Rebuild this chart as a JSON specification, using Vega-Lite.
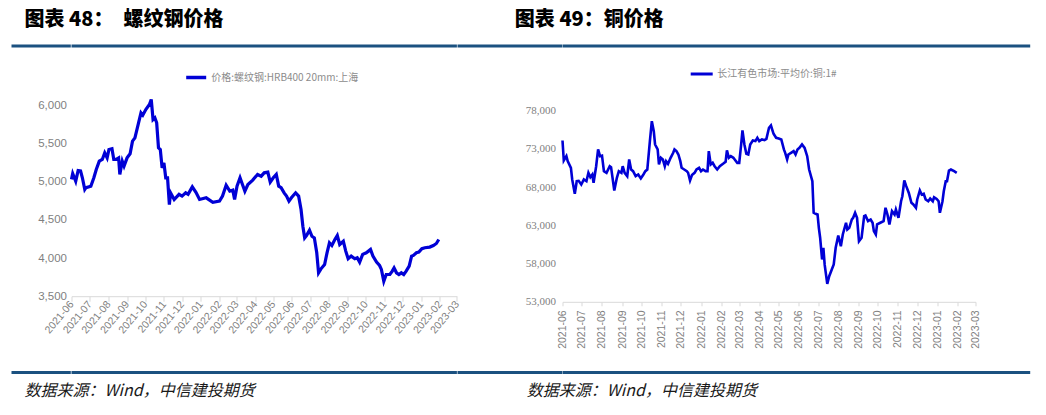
{
  "$schema": "https://vega.github.io/schema/vega-lite/v6.json",
  "background": "white",
  "padding": {"left": 11.5, "top": 9.5, "right": 5, "bottom": 5},
  "config": {"view": {"stroke": null}, "font": "Noto Sans CJK SC"},
  "datasets": {
    "rebar": [
      {"date":"2021-06-01","v":5030},{"date":"2021-06-03","v":5106},{"date":"2021-06-08","v":5005},{"date":"2021-06-12","v":5145},{"date":"2021-06-16","v":5140},{"date":"2021-06-19","v":5050},{"date":"2021-06-23","v":4897},{"date":"2021-06-25","v":4920},{"date":"2021-07-03","v":4940},{"date":"2021-07-08","v":5050},{"date":"2021-07-12","v":5158},{"date":"2021-07-17","v":5267},{"date":"2021-07-22","v":5290},{"date":"2021-07-26","v":5377},{"date":"2021-07-30","v":5311},{"date":"2021-08-02","v":5420},{"date":"2021-08-07","v":5430},{"date":"2021-08-10","v":5290},{"date":"2021-08-14","v":5290},{"date":"2021-08-18","v":5310},{"date":"2021-08-20","v":5093},{"date":"2021-08-24","v":5267},{"date":"2021-08-27","v":5202},{"date":"2021-09-01","v":5311},{"date":"2021-09-06","v":5364},{"date":"2021-09-10","v":5529},{"date":"2021-09-14","v":5573},{"date":"2021-09-20","v":5770},{"date":"2021-09-24","v":5900},{"date":"2021-09-27","v":5870},{"date":"2021-10-02","v":5944},{"date":"2021-10-08","v":6009},{"date":"2021-10-11","v":6075},{"date":"2021-10-14","v":5813},{"date":"2021-10-17","v":5835},{"date":"2021-10-20","v":5770},{"date":"2021-10-23","v":5442},{"date":"2021-10-26","v":5420},{"date":"2021-10-29","v":5180},{"date":"2021-11-01","v":5245},{"date":"2021-11-04","v":5050},{"date":"2021-11-07","v":5050},{"date":"2021-11-10","v":4700},{"date":"2021-11-12","v":4853},{"date":"2021-11-18","v":4766},{"date":"2021-11-26","v":4833},{"date":"2021-12-01","v":4810},{"date":"2021-12-07","v":4853},{"date":"2021-12-11","v":4833},{"date":"2021-12-14","v":4875},{"date":"2021-12-18","v":4932},{"date":"2021-12-24","v":4860},{"date":"2021-12-30","v":4766},{"date":"2022-01-10","v":4788},{"date":"2022-01-21","v":4730},{"date":"2022-02-01","v":4744},{"date":"2022-02-06","v":4810},{"date":"2022-02-12","v":4953},{"date":"2022-02-18","v":4875},{"date":"2022-02-23","v":4888},{"date":"2022-02-26","v":4766},{"date":"2022-03-02","v":4940},{"date":"2022-03-07","v":5050},{"date":"2022-03-11","v":4962},{"date":"2022-03-15","v":4875},{"date":"2022-03-20","v":4962},{"date":"2022-03-28","v":5020},{"date":"2022-04-05","v":5093},{"date":"2022-04-11","v":5071},{"date":"2022-04-16","v":5115},{"date":"2022-04-22","v":5124},{"date":"2022-04-26","v":4993},{"date":"2022-05-01","v":5050},{"date":"2022-05-06","v":5093},{"date":"2022-05-10","v":4940},{"date":"2022-05-14","v":4920},{"date":"2022-05-19","v":4853},{"date":"2022-05-23","v":4810},{"date":"2022-05-27","v":4744},{"date":"2022-05-31","v":4788},{"date":"2022-06-07","v":4853},{"date":"2022-06-12","v":4810},{"date":"2022-06-16","v":4635},{"date":"2022-06-19","v":4416},{"date":"2022-06-22","v":4264},{"date":"2022-06-25","v":4294},{"date":"2022-06-30","v":4364},{"date":"2022-07-04","v":4285},{"date":"2022-07-08","v":4264},{"date":"2022-07-12","v":4068},{"date":"2022-07-15","v":3806},{"date":"2022-07-19","v":3858},{"date":"2022-07-25","v":3915},{"date":"2022-07-29","v":4068},{"date":"2022-08-02","v":4199},{"date":"2022-08-06","v":4164},{"date":"2022-08-11","v":4242},{"date":"2022-08-15","v":4294},{"date":"2022-08-19","v":4177},{"date":"2022-08-25","v":4220},{"date":"2022-08-29","v":4090},{"date":"2022-09-02","v":3990},{"date":"2022-09-07","v":4025},{"date":"2022-09-13","v":3990},{"date":"2022-09-17","v":4003},{"date":"2022-09-21","v":3946},{"date":"2022-09-26","v":4047},{"date":"2022-10-02","v":4068},{"date":"2022-10-09","v":4112},{"date":"2022-10-13","v":4025},{"date":"2022-10-19","v":3946},{"date":"2022-10-24","v":3902},{"date":"2022-10-27","v":3850},{"date":"2022-10-31","v":3696},{"date":"2022-11-04","v":3784},{"date":"2022-11-10","v":3784},{"date":"2022-11-14","v":3828},{"date":"2022-11-17","v":3871},{"date":"2022-11-21","v":3806},{"date":"2022-11-25","v":3784},{"date":"2022-11-29","v":3806},{"date":"2022-12-03","v":3784},{"date":"2022-12-07","v":3828},{"date":"2022-12-12","v":3893},{"date":"2022-12-16","v":4025},{"date":"2022-12-19","v":4034},{"date":"2022-12-24","v":4068},{"date":"2022-12-28","v":4077},{"date":"2023-01-02","v":4121},{"date":"2023-01-07","v":4134},{"date":"2023-01-15","v":4143},{"date":"2023-01-21","v":4164},{"date":"2023-01-26","v":4190},{"date":"2023-01-30","v":4242}
    ],
    "copper": [
      {"date":"2021-06-01","v":74080},{"date":"2021-06-03","v":71470},{"date":"2021-06-07","v":72030},{"date":"2021-06-09","v":71380},{"date":"2021-06-14","v":70510},{"date":"2021-06-16","v":68990},{"date":"2021-06-20","v":67120},{"date":"2021-06-23","v":68760},{"date":"2021-06-26","v":68810},{"date":"2021-06-30","v":68330},{"date":"2021-07-04","v":68990},{"date":"2021-07-08","v":68760},{"date":"2021-07-11","v":69860},{"date":"2021-07-14","v":69290},{"date":"2021-07-17","v":69640},{"date":"2021-07-19","v":68550},{"date":"2021-07-23","v":70720},{"date":"2021-07-26","v":72910},{"date":"2021-07-29","v":72030},{"date":"2021-08-01","v":72100},{"date":"2021-08-04","v":70070},{"date":"2021-08-08","v":69860},{"date":"2021-08-13","v":70720},{"date":"2021-08-15","v":70600},{"date":"2021-08-20","v":67550},{"date":"2021-08-24","v":69210},{"date":"2021-08-27","v":70070},{"date":"2021-08-31","v":69860},{"date":"2021-09-02","v":70720},{"date":"2021-09-05","v":69860},{"date":"2021-09-09","v":69420},{"date":"2021-09-12","v":71600},{"date":"2021-09-15","v":70290},{"date":"2021-09-18","v":70070},{"date":"2021-09-22","v":69420},{"date":"2021-09-26","v":69640},{"date":"2021-09-30","v":69120},{"date":"2021-10-04","v":69640},{"date":"2021-10-07","v":70070},{"date":"2021-10-10","v":70290},{"date":"2021-10-14","v":73990},{"date":"2021-10-17","v":76600},{"date":"2021-10-20","v":75300},{"date":"2021-10-22","v":73560},{"date":"2021-10-26","v":72910},{"date":"2021-10-28","v":70950},{"date":"2021-10-31","v":71820},{"date":"2021-11-03","v":71600},{"date":"2021-11-06","v":70720},{"date":"2021-11-08","v":71380},{"date":"2021-11-11","v":71030},{"date":"2021-11-15","v":71820},{"date":"2021-11-19","v":72470},{"date":"2021-11-21","v":72910},{"date":"2021-11-24","v":72690},{"date":"2021-11-27","v":72250},{"date":"2021-11-30","v":71380},{"date":"2021-12-02","v":70510},{"date":"2021-12-06","v":70290},{"date":"2021-12-10","v":70070},{"date":"2021-12-12","v":69860},{"date":"2021-12-15","v":68850},{"date":"2021-12-18","v":69570},{"date":"2021-12-22","v":69860},{"date":"2021-12-25","v":70290},{"date":"2021-12-29","v":70510},{"date":"2022-01-01","v":70070},{"date":"2022-01-04","v":70290},{"date":"2022-01-08","v":70070},{"date":"2022-01-11","v":70070},{"date":"2022-01-13","v":72690},{"date":"2022-01-16","v":70950},{"date":"2022-01-19","v":71160},{"date":"2022-01-22","v":70720},{"date":"2022-01-26","v":70290},{"date":"2022-01-30","v":70720},{"date":"2022-02-04","v":71030},{"date":"2022-02-08","v":71300},{"date":"2022-02-10","v":72780},{"date":"2022-02-13","v":71820},{"date":"2022-02-16","v":72030},{"date":"2022-02-20","v":71820},{"date":"2022-02-22","v":71600},{"date":"2022-02-26","v":71160},{"date":"2022-03-01","v":71160},{"date":"2022-03-04","v":73560},{"date":"2022-03-06","v":75390},{"date":"2022-03-09","v":73560},{"date":"2022-03-12","v":72340},{"date":"2022-03-15","v":72250},{"date":"2022-03-18","v":73560},{"date":"2022-03-22","v":74080},{"date":"2022-03-26","v":74000},{"date":"2022-03-29","v":74430},{"date":"2022-04-01","v":74000},{"date":"2022-04-05","v":74210},{"date":"2022-04-09","v":74140},{"date":"2022-04-12","v":74300},{"date":"2022-04-16","v":75740},{"date":"2022-04-19","v":76040},{"date":"2022-04-23","v":74960},{"date":"2022-04-27","v":74430},{"date":"2022-05-01","v":74350},{"date":"2022-05-05","v":74210},{"date":"2022-05-09","v":72910},{"date":"2022-05-11","v":72470},{"date":"2022-05-14","v":71600},{"date":"2022-05-16","v":72250},{"date":"2022-05-20","v":72470},{"date":"2022-05-24","v":72690},{"date":"2022-05-27","v":72250},{"date":"2022-05-30","v":72910},{"date":"2022-06-02","v":73120},{"date":"2022-06-06","v":73560},{"date":"2022-06-10","v":73120},{"date":"2022-06-14","v":72030},{"date":"2022-06-17","v":70290},{"date":"2022-06-22","v":68760},{"date":"2022-06-24","v":64630},{"date":"2022-06-27","v":64500},{"date":"2022-06-30","v":64410},{"date":"2022-07-02","v":62670},{"date":"2022-07-04","v":61370},{"date":"2022-07-07","v":58530},{"date":"2022-07-09","v":60060},{"date":"2022-07-11","v":57850},{"date":"2022-07-15","v":55350},{"date":"2022-07-18","v":56350},{"date":"2022-07-22","v":57220},{"date":"2022-07-25","v":57880},{"date":"2022-07-28","v":60060},{"date":"2022-08-01","v":61670},{"date":"2022-08-05","v":60270},{"date":"2022-08-08","v":61800},{"date":"2022-08-13","v":63330},{"date":"2022-08-15","v":62450},{"date":"2022-08-18","v":62670},{"date":"2022-08-22","v":63760},{"date":"2022-08-24","v":63980},{"date":"2022-08-27","v":64630},{"date":"2022-08-30","v":63980},{"date":"2022-09-02","v":60920},{"date":"2022-09-06","v":61370},{"date":"2022-09-10","v":64200},{"date":"2022-09-12","v":64280},{"date":"2022-09-16","v":63550},{"date":"2022-09-20","v":63760},{"date":"2022-09-23","v":63330},{"date":"2022-09-25","v":62230},{"date":"2022-09-28","v":61800},{"date":"2022-09-30","v":63110},{"date":"2022-10-05","v":63330},{"date":"2022-10-10","v":63550},{"date":"2022-10-13","v":65290},{"date":"2022-10-16","v":64410},{"date":"2022-10-19","v":63110},{"date":"2022-10-23","v":64850},{"date":"2022-10-27","v":64410},{"date":"2022-10-29","v":65060},{"date":"2022-11-02","v":63980},{"date":"2022-11-06","v":66150},{"date":"2022-11-08","v":66800},{"date":"2022-11-11","v":68850},{"date":"2022-11-14","v":68110},{"date":"2022-11-18","v":67220},{"date":"2022-11-22","v":65940},{"date":"2022-11-25","v":65720},{"date":"2022-11-29","v":65290},{"date":"2022-12-01","v":66370},{"date":"2022-12-05","v":67550},{"date":"2022-12-08","v":67000},{"date":"2022-12-11","v":67110},{"date":"2022-12-14","v":66370},{"date":"2022-12-18","v":66150},{"date":"2022-12-21","v":66500},{"date":"2022-12-25","v":66150},{"date":"2022-12-27","v":66660},{"date":"2022-12-31","v":66450},{"date":"2023-01-03","v":66150},{"date":"2023-01-05","v":64630},{"date":"2023-01-09","v":66150},{"date":"2023-01-11","v":67450},{"date":"2023-01-14","v":68760},{"date":"2023-01-16","v":68760},{"date":"2023-01-19","v":70160},{"date":"2023-01-22","v":70290},{"date":"2023-01-27","v":70070},{"date":"2023-01-31","v":69860}
    ]
  },
  "bounds": "flush",
  "columns": 4,
  "spacing": {"row": 57.7, "column": 0},
  "resolve": {"scale": {"color": "independent"}, "legend": {"color": "independent"}},
  "concat": [
    {
      "width": 59.3, "height": 3, "data": {"values": []}, "mark": "point",
      "view": {"fill": "#1b5180", "stroke": null},
      "title": {"text": "图表 48：　螺纹钢价格", "anchor": "start", "frame": "group", "dx": 13, "offset": -1, "baseline": "alphabetic", "fontSize": 20, "fontWeight": 900, "font": "Noto Sans CJK SC", "color": "#000000"}
    },
    {
      "width": 385.4, "height": 3, "data": {"values": []}, "mark": "point",
      "view": {"fill": "#1b5180", "stroke": null}
    },
    {
      "width": 104.6, "height": 3, "data": {"values": []}, "mark": "point",
      "view": {"fill": "#1b5180", "stroke": null},
      "title": {"text": "图表 49：铜价格", "anchor": "start", "frame": "group", "dx": 57.3, "offset": -1, "baseline": "alphabetic", "fontSize": 20, "fontWeight": 900, "font": "Noto Sans CJK SC", "color": "#000000"}
    },
    {
      "width": 467.7, "height": 3, "data": {"values": []}, "mark": "point",
      "view": {"fill": "#1b5180", "stroke": null}
    },
    {
      "width": 59.3, "height": 207.1, "data": {"values": []}, "mark": "point"
    },
    {
      "width": 385.4, "height": 191,
      "data": {"name": "rebar"},
      "mark": {"type": "line", "strokeWidth": 3.2, "clip": false},
      "encoding": {
        "x": {"field": "date", "type": "temporal",
          "scale": {"type": "utc", "domain": [{"year": 2021, "month": 6, "date": 1, "utc": true}, {"year": 2023, "month": 3, "date": 1, "utc": true}]},
          "axis": {"title": null, "format": "%Y-%m", "tickCount": {"interval": "month", "step": 1}, "labelAngle": -50, "labelOverlap": false, "labelFlush": false, "grid": false, "domainColor": "#d9d9d9", "tickColor": "#d9d9d9", "tickSize": 5, "labelColor": "#7f7f7f", "labelFontSize": 10.5, "labelFont": "Liberation Sans", "labelPadding": 1}},
        "y": {"field": "v", "type": "quantitative",
          "scale": {"domain": [3500, 6000], "nice": false, "zero": false},
          "axis": {"title": null, "values": [3500, 4000, 4500, 5000, 5500, 6000], "format": ",.0f", "domain": false, "ticks": false, "grid": false, "labelColor": "#7f7f7f", "labelFontSize": 11.5, "labelFont": "Liberation Sans", "labelPadding": 5}},
        "color": {"datum": "价格:螺纹钢:HRB400 20mm:上海", "type": "nominal",
          "scale": {"range": ["#0000d6"]},
          "legend": {"title": null, "orient": "none", "legendX": 112.7, "legendY": -39.7, "symbolType": "stroke", "symbolSize": 400, "symbolStrokeWidth": 3.5, "labelFontSize": 10, "labelColor": "#8c8c8c", "labelFont": "Noto Sans CJK SC", "labelOffset": 3, "padding": 0}}
      }
    },
    {
      "width": 104.6, "height": 10, "data": {"values": []}, "mark": "point"
    },
    {
      "width": 413, "height": 196.6,
      "data": {"name": "copper"},
      "mark": {"type": "line", "strokeWidth": 2.6, "clip": false},
      "encoding": {
        "x": {"field": "date", "type": "temporal",
          "scale": {"type": "utc", "domain": [{"year": 2021, "month": 6, "date": 1, "utc": true}, {"year": 2023, "month": 3, "date": 1, "utc": true}]},
          "axis": {"title": null, "format": "%Y-%m", "tickCount": {"interval": "month", "step": 1}, "labelAngle": -90, "labelOverlap": false, "labelFlush": false, "grid": false, "domainColor": "#d9d9d9", "tickColor": "#d9d9d9", "tickSize": 4, "labelColor": "#7f7f7f", "labelFontSize": 10.5, "labelFont": "Liberation Sans", "labelPadding": 4}},
        "y": {"field": "v", "type": "quantitative",
          "scale": {"domain": [53000, 78693], "nice": false, "zero": false},
          "axis": {"title": null, "values": [53000, 58000, 63000, 68000, 73000, 78000], "format": ",.0f", "domain": false, "ticks": false, "grid": false, "labelColor": "#7f7f7f", "labelFontSize": 11, "labelFont": "Liberation Serif", "labelPadding": 7}},
        "color": {"datum": "长江有色市场:平均价:铜:1#", "type": "nominal",
          "scale": {"range": ["#0000d6"]},
          "legend": {"title": null, "orient": "none", "legendX": 126.7, "legendY": -43.7, "symbolType": "stroke", "symbolSize": 484, "symbolStrokeWidth": 3, "labelFontSize": 10, "labelColor": "#8c8c8c", "labelFont": "Noto Sans CJK SC", "labelOffset": 3, "padding": 0}}
      }
    },
    {
      "width": 59.3, "height": 3, "data": {"values": []}, "mark": "point",
      "view": {"fill": "#1b5180", "stroke": null},
      "title": {"text": "数据来源：Wind，中信建投期货", "orient": "bottom", "anchor": "start", "frame": "group", "dx": 13, "offset": 22.5, "baseline": "alphabetic", "fontSize": 16, "fontWeight": "normal", "fontStyle": "italic", "font": "Noto Sans CJK SC", "color": "#1a1a1a"}
    },
    {
      "width": 385.4, "height": 3, "data": {"values": []}, "mark": "point",
      "view": {"fill": "#1b5180", "stroke": null}
    },
    {
      "width": 104.6, "height": 3, "data": {"values": []}, "mark": "point",
      "view": {"fill": "#1b5180", "stroke": null},
      "title": {"text": "数据来源：Wind，中信建投期货", "orient": "bottom", "anchor": "start", "frame": "group", "dx": 69.3, "offset": 22.5, "baseline": "alphabetic", "fontSize": 16, "fontWeight": "normal", "fontStyle": "italic", "font": "Noto Sans CJK SC", "color": "#1a1a1a"}
    },
    {
      "width": 467.7, "height": 3, "data": {"values": []}, "mark": "point",
      "view": {"fill": "#1b5180", "stroke": null}
    }
  ]
}
